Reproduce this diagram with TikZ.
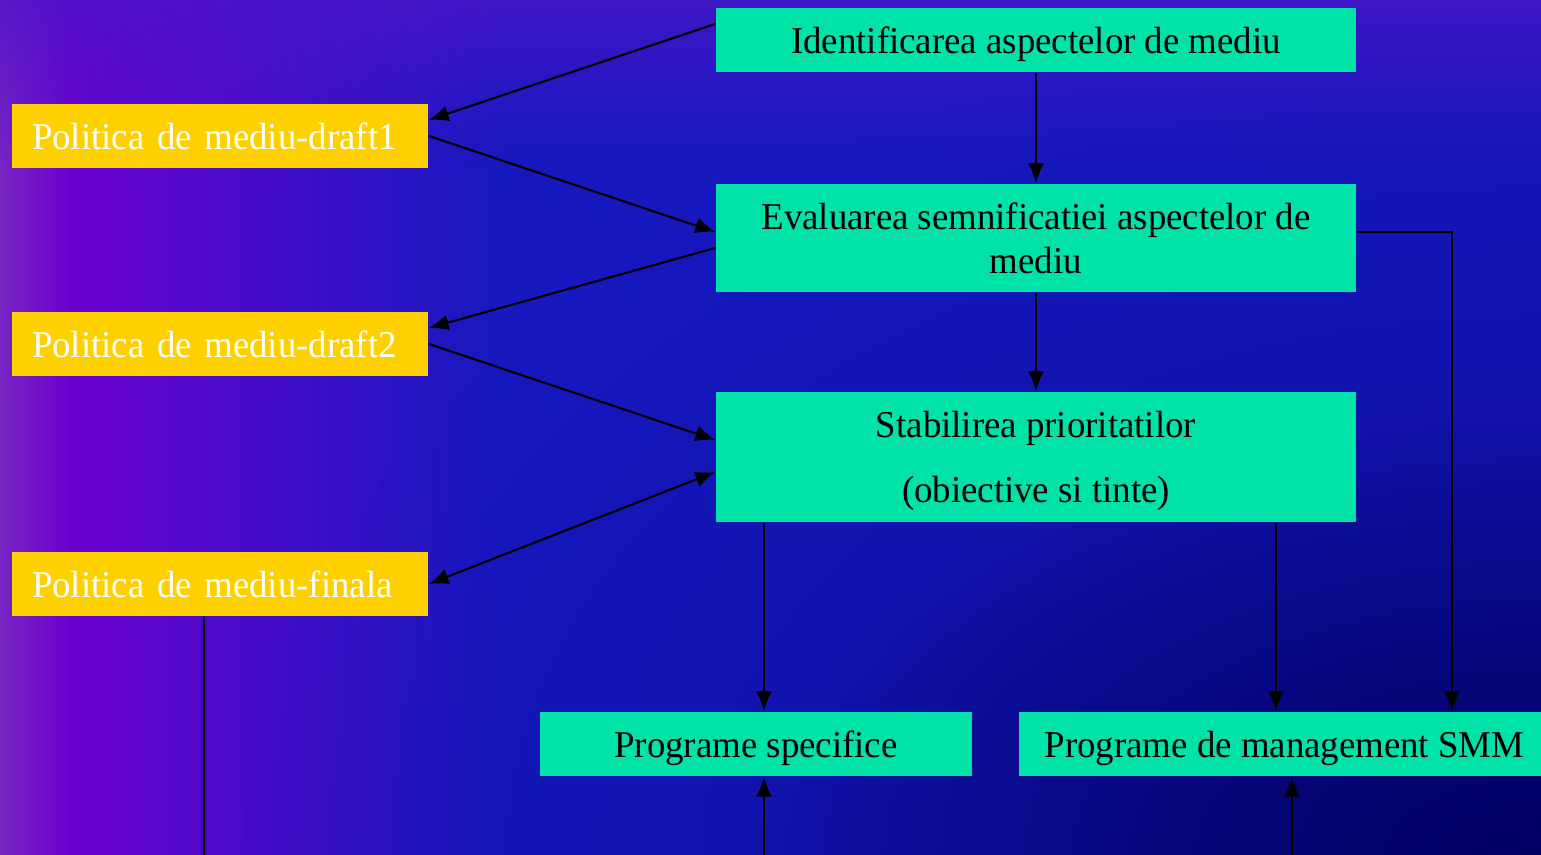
\documentclass[tikz,border=0pt]{standalone}
\usepackage{fontspec}
\setmainfont[FakeStretch=0.97]{Liberation Serif}
\usetikzlibrary{arrows.meta,fadings}

\definecolor{fundalalbastru}{HTML}{1619C0}
\definecolor{fundalviolet}{HTML}{6A00D0}
\definecolor{fundalmov}{HTML}{7A2AC0}
\definecolor{fundalsus}{HTML}{4C14C8}
\definecolor{fundalinchis}{HTML}{000060}
\definecolor{galben}{HTML}{FFD000}
\definecolor{verde}{HTML}{00E2A8}

\newcommand{\textdiag}{\fontsize{10.8pt}{12.5pt}\selectfont}

\tikzfading[name=fadesus, top color=transparent!0, bottom color=transparent!100]
\tikzfading[name=fadecolt, inner color=transparent!0, outer color=transparent!100]
\tikzfading[name=fadelarg, inner color=transparent!55, outer color=transparent!100]

\tikzstyle{politica}=[rectangle, fill=galben, text=white, minimum height=0.64cm, text width=3.76cm, align=left, inner xsep=0.2cm, inner ysep=0pt, font=\textdiag]
\tikzstyle{etapa}=[rectangle, fill=verde, text=black, minimum height=0.64cm, minimum width=6.4cm, align=center, inner sep=0pt, text depth=0pt, font=\textdiag]
\tikzstyle{sageata}=[-{Latex[length=0.2cm,width=0.16cm]}, line width=0.6pt]
\tikzstyle{sageatadubla}=[{Latex[length=0.2cm,width=0.16cm]}-{Latex[length=0.2cm,width=0.16cm]}, line width=0.6pt]

\begin{document}
\begin{tikzpicture}
    % Fundal
    \useasboundingbox (0,0) rectangle (15.41,8.54);
    \fill[fundalalbastru] (-0.1,-0.1) rectangle (15.51,8.64);
    \shade[left color=fundalviolet, right color=fundalalbastru] (0.7,-0.1) rectangle (5.0,8.64);
    \shade[left color=fundalmov, right color=fundalviolet] (-0.1,-0.1) rectangle (0.7,8.64);
    \fill[fundalsus, path fading=fadesus] (-0.1,9.09) rectangle (15.51,6.89);
    \fill[fundalinchis, path fading=fadelarg] (2.41,-8.6) rectangle (28.41,8.4);
    \fill[fundalinchis, path fading=fadecolt] (7.41,-4.6) rectangle (23.41,4.4);

    % Definirea nodurilor
    \node[etapa] (identif) at (10.36,8.14) {Identificarea aspectelor de mediu};
    \node[politica] (draft1) at (2.20,7.18) {Politica de mediu-draft1};
    \node[etapa, minimum height=1.08cm] (evaluare) at (10.36,6.16) {Evaluarea semnificatiei aspectelor de\\mediu};
    \node[politica] (draft2) at (2.20,5.10) {Politica de mediu-draft2};
    \node[etapa, minimum height=1.30cm] (prioritati) at (10.36,3.97) {Stabilirea prioritatilor\\[0.21cm](obiective si tinte)};
    \node[politica] (finala) at (2.20,2.70) {Politica de mediu-finala};
    \node[etapa, minimum width=4.32cm] (specifice) at (7.56,1.10) {Programe specifice};
    \node[etapa, minimum width=5.31cm] (management) at (12.845,1.10) {Programe de management SMM};

    % Capete libere
    \coordinate (specintrare) at ([xshift=0.08cm]specifice.north);
    \coordinate (mgmtintrare) at ([xshift=-0.085cm]management.north);
    \coordinate (jos1) at (2.04,-0.1);
    \coordinate (jos2) at (7.64,-0.1);
    \coordinate (jos3) at (12.92,-0.1);

    % Legaturi
    \draw[sageata] ([yshift=0.16cm]identif.west) -- ([yshift=0.16cm]draft1.east);
    \draw[sageata] (draft1.east) -- ([yshift=0.06cm]evaluare.west);
    \draw[sageata] ([yshift=-0.10cm]evaluare.west) -- ([yshift=0.16cm]draft2.east);
    \draw[sageata] (draft2.east) -- ([yshift=0.17cm]prioritati.west);
    \draw[sageatadubla] ([yshift=-0.15cm]prioritati.west) -- (finala.east);
    \draw[sageata] (identif) -- (evaluare);
    \draw[sageata] (evaluare) -- (prioritati);
    \draw[sageata] ([yshift=0.06cm]evaluare.east) -| ([xshift=1.675cm]management.north);
    \draw[sageata] (prioritati.south -| specintrare) -- (specintrare);
    \draw[sageata] (prioritati.south -| mgmtintrare) -- (mgmtintrare);
    \draw[line width=0.6pt] ([xshift=-0.16cm]finala.south) -- (jos1);
    \draw[sageata] (jos2) -- (jos2 |- specifice.south);
    \draw[sageata] (jos3) -- (jos3 |- management.south);
\end{tikzpicture}
\end{document}
